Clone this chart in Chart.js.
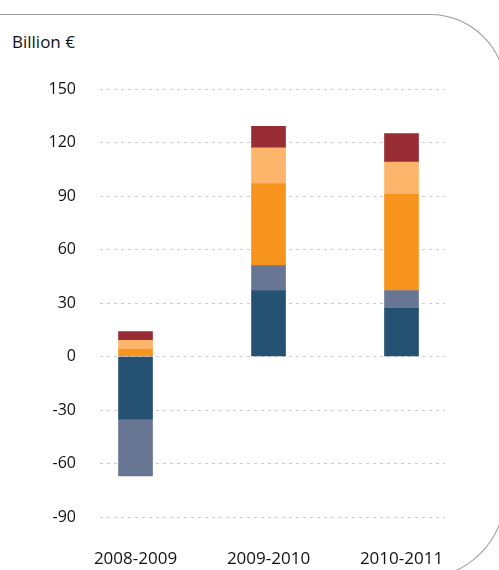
<!DOCTYPE html>
<html>
<head>
<meta charset="utf-8">
<script src="https://cdn.jsdelivr.net/npm/chart.js@4.4.1/dist/chart.umd.min.js"></script>
<style>
  html, body { margin: 0; padding: 0; background: #fff; overflow: hidden; }
  #wrap { position: relative; width: 499px; height: 570px; overflow: hidden; }
  #frame {
    position: absolute; left: -10px; top: 14px; width: 516px; height: 565px;
    box-sizing: border-box; border: 1.5px solid #9a9a9a; border-left: none;
    border-radius: 0 76px 86px 0;
  }
  #unit {
    position: absolute; left: 12px; top: 30px;
    font-family: "Open Sans", sans-serif; font-size: 17px; color: #111;
  }
  canvas { position: absolute; left: 0; top: 0; }
</style>
</head>
<body>
<div id="wrap">
  <div id="frame"></div>
  <div id="unit">Billion €</div>
  <canvas id="bar-chart" width="499" height="570"></canvas>
</div>
<script>
var periods = ["2008-2009", "2009-2010", "2010-2011"];
var darkBlue = [-35, 37, 27];
var greyBlue = [-32, 14, 10];
var orange = [4, 46, 54];
var lightOrange = [5, 20, 18];
var darkRed = [5, 12, 16];
var yTicks = [-90, -60, -30, 0, 30, 60, 90, 120, 150];

function points(values) {
    var out = [];
    for (var i = 0; i < values.length; i++) {
        out.push({ x: i, y: values[i] });
    }
    return out;
}

var textColor = "#111";

new Chart(document.getElementById("bar-chart"), {
    type: "bar",
    data: {
        datasets: [
            { data: points(darkBlue), backgroundColor: "#255273" },
            { data: points(greyBlue), backgroundColor: "#687694" },
            { data: points(orange), backgroundColor: "#f7941d" },
            { data: points(lightOrange), backgroundColor: "#fcb56a" },
            { data: points(darkRed), backgroundColor: "#992d35" }
        ]
    },
    options: {
        responsive: false,
        animation: false,
        barThickness: 34,
        layout: { padding: { top: 89, right: 54, left: 0, bottom: 0 } },
        plugins: {
            legend: { display: false },
            tooltip: { enabled: false }
        },
        scales: {
            x: {
                type: "linear",
                stacked: true,
                offset: false,
                min: -0.267,
                max: 2.327,
                grid: { display: false, offset: false },
                border: { display: false },
                afterFit: function(scale) { scale.height = 53; },
                afterBuildTicks: function(scale) {
                    scale.ticks = periods.map(function(p, i) { return { value: i }; });
                },
                ticks: {
                    padding: 24,
                    color: textColor,
                    font: { family: "'Open Sans', sans-serif", size: 17 },
                    maxRotation: 0,
                    callback: function(value) { return periods[value]; }
                }
            },
            y: {
                stacked: true,
                min: -90,
                max: 150,
                afterFit: function(scale) { scale.width = 100; },
                afterBuildTicks: function(scale) {
                    scale.ticks = yTicks.map(function(v) { return { value: v }; });
                },
                grid: {
                    color: "#c9ccd9",
                    lineWidth: 1,
                    drawTicks: false
                },
                border: { display: false, dash: [3, 4] },
                ticks: {
                    padding: 24,
                    color: textColor,
                    font: { family: "'Open Sans', sans-serif", size: 16 }
                }
            }
        }
    }
});
</script>
</body>
</html>
